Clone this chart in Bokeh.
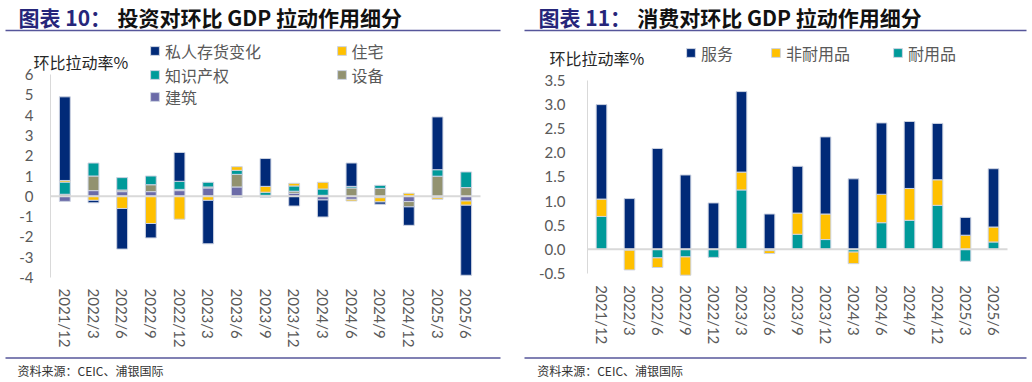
import numpy as np
from bokeh.plotting import figure
from bokeh.models import (Range1d, FixedTicker, PrintfTickFormatter, BoxAnnotation,
                          Label, Legend, LegendItem, ColumnDataSource)
from bokeh.layouts import row
from bokeh.embed import file_html
from bokeh.resources import INLINE

# ---------------- data ----------------
quarters = ["2021/12", "2022/3", "2022/6", "2022/9", "2022/12", "2023/3", "2023/6",
            "2023/9", "2023/12", "2024/3", "2024/6", "2024/9", "2024/12", "2025/3", "2025/6"]

# chart 10: investment contribution (stacking order from zero outward)
inv_construction = [-0.25, 0.28, 0.23, 0.23, 0.28, 0.41, 0.46, -0.05, 0.15, -0.18, -0.15, -0.07, -0.26, -0.07, -0.23]
inv_equipment    = [0.10, 0.72, 0.08, 0.34, 0.06, 0.05, 0.62, 0.05, 0.10, 0.05, 0.41, 0.39, -0.26, 0.99, 0.43]
inv_ip           = [0.60, 0.64, 0.61, 0.43, 0.40, 0.23, 0.20, 0.15, 0.26, 0.31, 0.08, 0.15, 0.00, 0.32, 0.77]
inv_residential  = [0.08, -0.20, -0.60, -1.34, -1.13, -0.20, 0.18, 0.29, 0.13, 0.33, -0.08, -0.21, 0.15, -0.08, -0.21]
inv_inventory    = [4.12, -0.12, -2.00, -0.71, 1.42, -2.14, -0.05, 1.37, -0.48, -0.84, 1.15, -0.11, -0.91, 2.60, -3.45]

# chart 11: consumption contribution
con_durable    = [0.68, -0.02, -0.18, -0.16, -0.17, 1.23, -0.03, 0.31, 0.20, -0.06, 0.55, 0.60, 0.91, -0.25, 0.15]
con_nondurable = [0.36, -0.41, -0.20, -0.38, 0.00, 0.37, -0.06, 0.44, 0.53, -0.24, 0.59, 0.66, 0.53, 0.29, 0.31]
con_services   = [1.96, 1.05, 2.09, 1.54, 0.96, 1.67, 0.73, 0.97, 1.60, 1.46, 1.48, 1.39, 1.17, 0.37, 1.21]

left_ticks = [-4, -3, -2, -1, 0, 1, 2, 3, 4, 5, 6]
right_ticks = [-0.5, 0.0, 0.5, 1.0, 1.5, 2.0, 2.5, 3.0, 3.5]

NAVY = "#012a78"
YELLOW = "#ffc000"
TEAL = "#009a9a"
OLIVE = "#929270"
PURPLE = "#6b6ba8"
RULE = "#56569a"

CJK = "Noto Sans CJK SC"
NUM = "Lato"
PW, PH = 516, 382
idx = list(range(len(quarters)))


class Panel:
    """One figure covering the whole panel; axes are drawn at fixed locations."""

    def __init__(self, area_left_px, unit_x, zero_px, unit_y, y_bounds, ticks, fmt, ystand, xstand):
        self.ux, self.uy = unit_x, unit_y
        self.xs = -0.5 - area_left_px / unit_x
        self.ye = zero_px / unit_y
        xe = self.xs + PW / unit_x
        ys = self.ye - PH / unit_y
        p = figure(width=PW, height=PH, x_range=Range1d(self.xs, xe), y_range=Range1d(ys, self.ye),
                   toolbar_location=None, output_backend="svg", outline_line_color=None,
                   min_border=0, min_border_left=0, min_border_right=0,
                   min_border_top=0, min_border_bottom=0)
        p.xgrid.visible = False
        p.ygrid.visible = False
        xa = p.xaxis[0]
        xa.fixed_location = y_bounds[0]
        xa.ticker = FixedTicker(ticks=idx, minor_ticks=[])
        xa.major_label_overrides = {i: q for i, q in zip(idx, quarters)}
        xa.axis_line_color = None
        xa.major_tick_line_color = None
        xa.minor_tick_line_color = None
        xa.major_tick_out = 0
        xa.major_tick_in = 0
        xa.major_label_orientation = "vertical"
        xa.major_label_standoff = xstand
        xa.major_label_text_font = NUM
        xa.major_label_text_font_size = "15px"
        xa.major_label_text_color = "#595959"
        ya = p.yaxis[0]
        ya.fixed_location = -0.5
        ya.ticker = FixedTicker(ticks=ticks, minor_ticks=[])
        ya.formatter = PrintfTickFormatter(format=fmt)
        ya.bounds = y_bounds
        ya.axis_line_color = "#d9d9d9"
        ya.axis_line_width = 1
        ya.major_tick_line_color = None
        ya.minor_tick_line_color = None
        ya.major_tick_out = 0
        ya.major_tick_in = 0
        ya.major_label_standoff = ystand
        ya.major_label_text_font = NUM
        ya.major_label_text_font_size = "15px"
        ya.major_label_text_color = "#595959"
        self.p = p
        # zero line across the plot area
        p.add_layout(BoxAnnotation(left=-0.5, right=len(idx) - 0.5, bottom=-1.0 / unit_y, top=1.0 / unit_y,
                                   fill_color="#d9d9d9", fill_alpha=1, line_color=None))

    def X(self, px):
        return self.xs + px / self.ux

    def Y(self, py):
        return self.ye - py / self.uy

    def stacked(self, series, width):
        pos = np.zeros(len(idx))
        neg = np.zeros(len(idx))
        out = {}
        for name, vals, color in series:
            v = np.array(vals, float)
            bottom = np.where(v >= 0, pos, neg)
            top = bottom + v
            pos = np.where(v >= 0, top, pos)
            neg = np.where(v < 0, top, neg)
            src = ColumnDataSource(dict(x=idx, bottom=bottom, top=top))
            out[name] = self.p.vbar(x="x", bottom="bottom", top="top", width=width, source=src,
                                    fill_color=color, line_color="#cdd3e2", line_width=1)
        return out

    def legend(self, label, rend, px_left, py_center):
        lg = Legend(items=[LegendItem(label=label, renderers=[rend])],
                    location=(px_left - 1, PH - py_center - 11.5),
                    padding=0, margin=0, spacing=0, glyph_width=11, glyph_height=11,
                    label_height=23, label_standoff=5, label_text_font=CJK,
                    label_text_font_size="16px", label_text_color="#595959",
                    background_fill_alpha=0, border_line_color=None)
        self.p.add_layout(lg)

    def text(self, px, py, s, size, color, bold=False):
        self.p.add_layout(Label(x=self.X(px), y=self.Y(py), text=s, text_font=CJK, text_font_size=size,
                                text_font_style="bold" if bold else "normal", text_color=color,
                                text_baseline="middle", text_align="left"))

    def rule(self, px0, px1, py):
        self.p.add_layout(BoxAnnotation(left=self.X(px0), right=self.X(px1), top=self.Y(py - 0.75),
                                        bottom=self.Y(py + 0.75), fill_color=RULE, fill_alpha=1,
                                        line_color=None))


# ---------------- left panel ----------------
L = Panel(50, 430 / 15, 195.8, 20.3, (-4, 6), left_ticks, "%d", 17, 11)
r1 = L.stacked([
    ("建筑", inv_construction, PURPLE),
    ("设备", inv_equipment, OLIVE),
    ("知识产权", inv_ip, TEAL),
    ("住宅", inv_residential, YELLOW),
    ("私人存货变化", inv_inventory, NAVY),
], 0.38)
L.rule(5, 500, 30)
L.rule(5, 500, 357.5)
L.text(18, 16.5, "图表 10：", "21px", "#26267a", True)
L.text(117, 16.5, "投资对环比 GDP 拉动作用细分", "21px", "#111111", True)
L.text(33, 61, "环比拉动率%", "16px", "#262626")
L.text(17, 370, "资料来源：CEIC、浦银国际", "12px", "#333333")
L.legend("私人存货变化", r1["私人存货变化"], 150, 51)
L.legend("知识产权", r1["知识产权"], 150, 75)
L.legend("建筑", r1["建筑"], 150, 97)
L.legend("住宅", r1["住宅"], 336.5, 51)
L.legend("设备", r1["设备"], 336.5, 75)

# ---------------- right panel ----------------
R = Panel(71, 28, 248.7, 48.2, (-0.5, 3.5), right_ticks, "%.1f", 22, 12)
r2 = R.stacked([
    ("耐用品", con_durable, TEAL),
    ("非耐用品", con_nondurable, YELLOW),
    ("服务", con_services, NAVY),
], 0.38)
R.rule(8, 510, 30)
R.rule(8, 510, 357.5)
R.text(22, 16.5, "图表 11：", "21px", "#26267a", True)
R.text(120.7, 16.5, "消费对环比 GDP 拉动作用细分", "21px", "#111111", True)
R.text(33, 57, "环比拉动率%", "16px", "#262626")
R.text(20.7, 370, "资料来源：CEIC、浦银国际", "12px", "#333333")
R.legend("服务", r2["服务"], 170, 53)
R.legend("非耐用品", r2["非耐用品"], 255, 53)
R.legend("耐用品", r2["耐用品"], 377, 53)

layout = row(L.p, R.p)

open("out.html", "w").write(file_html(layout, INLINE))
